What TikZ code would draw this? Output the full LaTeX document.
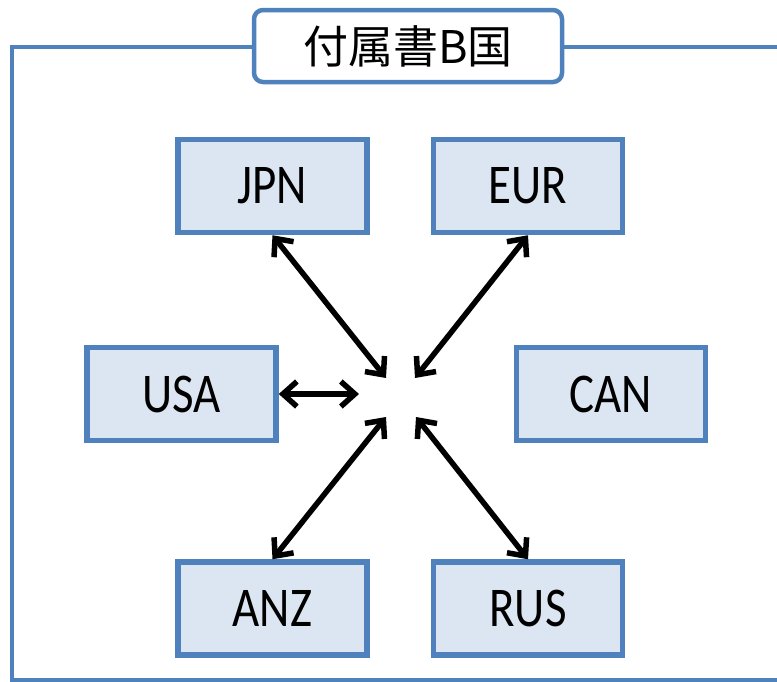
\documentclass[tikz,border=0pt]{standalone}
\usepackage{fontspec}
\setmainfont{Carlito}
\newfontfamily\cjk{Noto Sans CJK JP}
\usetikzlibrary{arrows.meta}
\definecolor{frameblue}{RGB}{79,129,189}
\definecolor{boxfill}{RGB}{220,230,242}
\newcommand{\tallt}[1]{\scalebox{1.02}[1.22]{#1}}
\tikzset{
  cbox/.style={draw=frameblue, line width=5.5pt, fill=boxfill, minimum width=189pt, minimum height=93pt, inner sep=0pt, font=\fontsize{46}{46}\selectfont},
  link/.style={line width=5.5pt, {Straight Barb[length=14pt,width=25pt]}-{Straight Barb[length=14pt,width=25pt]}},
  titlebox/.style={draw=frameblue, line width=4.5pt, fill=white, rounded corners=9pt, minimum width=308pt, minimum height=72pt, inner sep=0pt, font=\cjk\fontsize{45}{45}\selectfont}
}
\begin{document}
\begin{tikzpicture}[x=1pt,y=-1pt]
\useasboundingbox (0,0) rectangle (777,681);
\draw[frameblue, line width=4pt] (790,47) -- (12,47) -- (12,680) -- (790,680);
\node[titlebox] (title) at (408,46) {付属書B国};
\node[cbox] (jpn) at (272.5,186) {\tallt{JPN}};
\node[cbox] (eur) at (528,186) {\tallt{EUR}};
\node[cbox] (usa) at (181.5,394) {\tallt{USA}};
\node[cbox] (can) at (611,394) {\tallt{CAN}};
\node[cbox] (anz) at (272.5,608.5) {\tallt{ANZ}};
\node[cbox] (rus) at (528,608.5) {\tallt{RUS}};
\coordinate (cjpn) at (386,378);
\coordinate (ceur) at (415,378);
\coordinate (cusa) at (359,394);
\coordinate (canz) at (386,417);
\coordinate (crus) at (416,417);
\draw[link] (jpn.south) -- (cjpn);
\draw[link] (eur.south) -- (ceur);
\draw[link] (usa.east) -- (cusa);
\draw[link] (anz.north) -- (canz);
\draw[link] (rus.north) -- (crus);
\end{tikzpicture}
\end{document}
